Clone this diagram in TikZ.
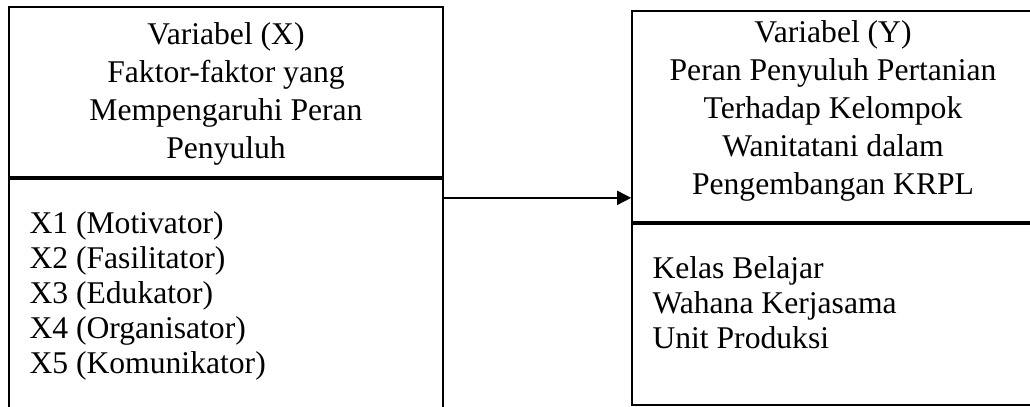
\documentclass[tikz,border=0pt]{standalone}
\usepackage{fontspec}
\setmainfont{Liberation Serif}
\usetikzlibrary{arrows.meta,positioning}
\tikzset{
    frame/.style={rectangle,draw=black,line width=1pt,inner sep=0pt},
    head/.style={align=center,font=\fontsize{18}{21.6}\selectfont,inner sep=0pt},
    items/.style={align=left,font=\fontsize{18}{19.9}\selectfont,inner sep=0pt},
    arr/.style={-{Triangle[length=0.28cm,width=0.28cm]},line width=1pt}
}
\begin{document}
\begin{tikzpicture}[x=0.02cm,y=-0.02cm]
    \useasboundingbox (0,0) rectangle (1030,406);
    \clip (0,0) rectangle (1030,406);

    % variable X (left)
    \node[frame,minimum width=8.68cm,minimum height=3.4cm]              (xhead) at (226,92) {};
    \node[frame,minimum width=8.68cm,minimum height=4.86cm,anchor=north] (xbody) at (xhead.south) {};
    \node[head,anchor=north] (xtitle) at ([yshift=-0.33cm]xhead.north)
        {Variabel (X)\\Faktor-faktor yang\\Mempengaruhi Peran\\Penyuluh};
    \node[items,anchor=north west] (xlist) at ([xshift=0.42cm,yshift=-0.67cm]xbody.north west)
        {X1 (Motivator)\\X2 (Fasilitator)\\X3 (Edukator)\\X4 (Organisator)\\X5 (Komunikator)};

    % variable Y (right)
    \node[frame,minimum width=8.04cm,minimum height=4.22cm]              (yhead) at (833,116.5) {};
    \node[frame,minimum width=8.04cm,minimum height=3.62cm,anchor=north] (ybody) at (yhead.south) {};
    \node[head,anchor=north] (ytitle) at ([yshift=-0.21cm]yhead.north)
        {Variabel (Y)\\Peran Penyuluh Pertanian\\Terhadap Kelompok\\Wanitatani dalam\\Pengembangan KRPL};
    \node[items,anchor=north west] (ylist) at ([xshift=0.42cm,yshift=-0.67cm]ybody.north west)
        {Kelas Belajar\\Wahana Kerjasama\\Unit Produksi};

    \draw[arr] ([yshift=-0.4cm]xbody.north east) -- ([yshift=-0.4cm]xbody.north east -| yhead.west);
\end{tikzpicture}
\end{document}
